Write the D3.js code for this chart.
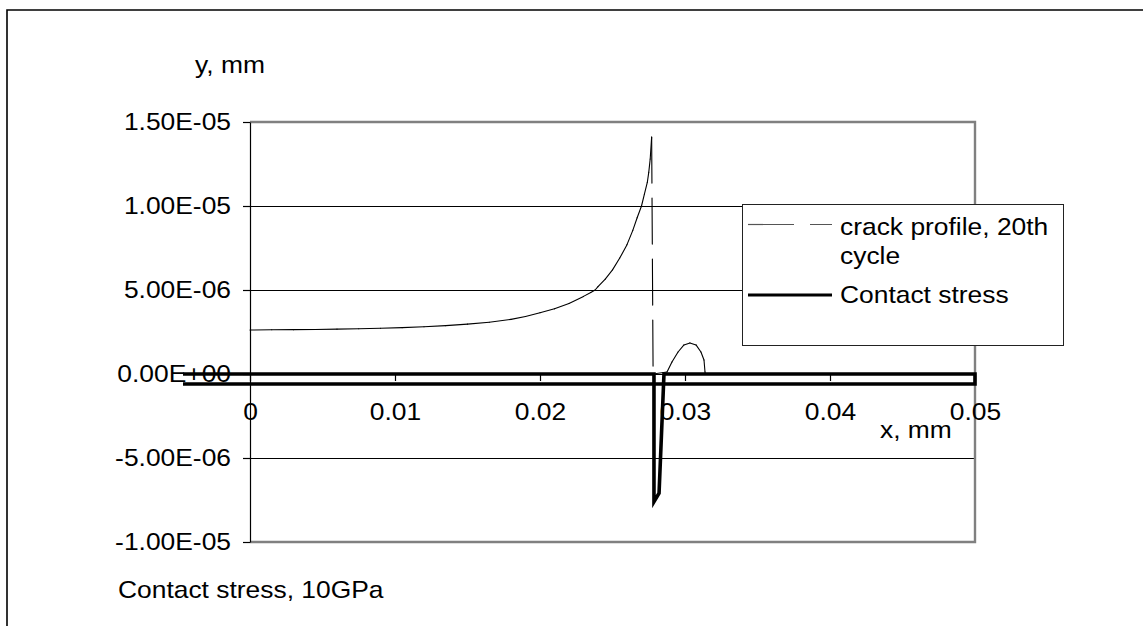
<!DOCTYPE html>
<html><head><meta charset="utf-8">
<script src="https://cdn.jsdelivr.net/npm/d3@7/dist/d3.min.js"></script>
<style>html,body{margin:0;padding:0;background:#fff;}svg{display:block;}</style>
</head><body>
<script>
// ---- data ----
const crackX = [0, 0.0015, 0.003, 0.0045, 0.006, 0.0075, 0.009, 0.0105, 0.012, 0.0135, 0.015, 0.0165, 0.018, 0.019, 0.020, 0.021, 0.022, 0.023, 0.0235, 0.0238,
                0.024, 0.0245, 0.025, 0.0255, 0.026, 0.0264, 0.0267, 0.0270, 0.0272, 0.0274, 0.0275, 0.0276, 0.0277,
                0.0278, 0.02876, 0.0291, 0.02952, 0.02993, 0.03034, 0.03076, 0.0311, 0.03131, 0.03138, 0.0314, 0.05];
const crackY = [2.62e-6, 2.63e-6, 2.64e-6, 2.65e-6, 2.67e-6, 2.69e-6, 2.72e-6, 2.76e-6, 2.81e-6, 2.88e-6, 2.97e-6, 3.08e-6, 3.25e-6, 3.42e-6, 3.65e-6, 3.88e-6, 4.2e-6, 4.62e-6, 4.85e-6, 5.0e-6,
                5.2e-6, 5.65e-6, 6.2e-6, 6.9e-6, 7.7e-6, 8.55e-6, 9.3e-6, 1.0e-5, 1.07e-5, 1.14e-5, 1.2e-5, 1.28e-5, 1.41e-5,
                0, 1.2e-7, 7.1e-7, 1.31e-6, 1.73e-6, 1.85e-6, 1.73e-6, 1.31e-6, 8.3e-7, 1.2e-7, 0, 0];
const contactX = [-0.00462, 0.02786, 0.02786, 0.02821, 0.02855, 0.05, 0.05, -0.00462];
const contactY = [0, 0, -7.6e-6, -7.1e-6, 0, 0, -5.95e-7, -5.95e-7];
const xTicks = [0, 0.01, 0.02, 0.03, 0.04, 0.05];
const xTickLabels = ["0", "0.01", "0.02", "0.03", "0.04", "0.05"];
const yTicks = [-1e-5, -5e-6, 0, 5e-6, 1e-5, 1.5e-5];
const yTickLabels = ["-1.00E-05", "-5.00E-06", "0.00E+00", "5.00E-06", "1.00E-05", "1.50E-05"];
const seriesNames = ["crack profile, 20th", "cycle", "Contact stress"];

const W = 1143, H = 626;
const FONT = "'Liberation Sans', Arial, 'DejaVu Sans', sans-serif";
const FS = 24, SX = 1.1;

const svg = d3.select("body").append("svg").attr("width", W).attr("height", H);
svg.append("rect").attr("width", W).attr("height", H).attr("fill", "#fff");

const x = d3.scaleLinear().domain([0, 0.05]).range([250, 975]);
const y = d3.scaleLinear().domain([-1e-5, 1.5e-5]).range([542, 122]);

function label(px, py, s, anchor) {
  svg.append("g").attr("transform", `translate(${px},${py}) scale(${SX},1)`)
    .append("text").attr("x", 0).attr("y", 0).attr("text-anchor", anchor || "start")
    .attr("font-family", FONT).attr("font-size", FS).attr("fill", "#000").text(s);
}

// outer frame (left and top edges)
svg.append("path").attr("d", `M7,${H} V10 H${W}`).attr("fill", "none").attr("stroke", "#000").attr("stroke-width", 1.6);

// gridlines
svg.append("g").selectAll("line").data(yTicks.filter(v => v !== 0 && v !== -1e-5 && v !== 1.5e-5)).join("line")
  .attr("x1", x(0)).attr("x2", x(0.05)).attr("y1", d => Math.round(y(d)) + 0.5).attr("y2", d => Math.round(y(d)) + 0.5)
  .attr("stroke", "#000").attr("stroke-width", 1);

// plot area border (grey)
svg.append("path").attr("d", `M${x(0)},${y(1.5e-5)} H${x(0.05)} V${y(-1e-5)} H${x(0)}`)
  .attr("fill", "none").attr("stroke", "#808080").attr("stroke-width", 2.4);

// y axis
const yAxis = d3.axisLeft(y).tickValues(yTicks).tickSize(7).tickSizeOuter(0)
  .tickFormat((d, i) => yTickLabels[i]);
const gy = svg.append("g").attr("transform", `translate(${x(0)},0)`).call(yAxis);
gy.select(".domain").attr("stroke", "#000").attr("stroke-width", 1.2);
gy.selectAll(".tick line").attr("stroke", "#000").attr("stroke-width", 1.2);
gy.selectAll(".tick text").attr("x", -19 / SX).attr("y", 7.5).attr("dy", 0)
  .attr("transform", `scale(${SX},1)`).attr("font-family", FONT).attr("font-size", FS).attr("fill", "#000");

// x axis at y = 0
const xAxis = d3.axisBottom(x).tickValues(xTicks).tickSize(7).tickSizeOuter(0)
  .tickFormat((d, i) => xTickLabels[i]);
const gx = svg.append("g").attr("transform", `translate(0,${y(0)})`).call(xAxis);
gx.select(".domain").attr("stroke", "#000").attr("stroke-width", 1.2);
gx.selectAll(".tick line").attr("stroke", "#000").attr("stroke-width", 1.2);
gx.selectAll(".tick text").attr("y", 46).attr("dy", 0)
  .attr("transform", `scale(${SX},1)`).attr("font-family", FONT).attr("font-size", FS).attr("fill", "#000");

// crack profile: each segment dashed independently (short segments show solid)
const crackPts = crackX.map((v, i) => [x(v), y(crackY[i])]);
const segs = d3.pairs(crackPts);
svg.append("g").selectAll("line").data(segs).join("line")
  .attr("x1", d => d[0][0]).attr("y1", d => d[0][1]).attr("x2", d => d[1][0]).attr("y2", d => d[1][1])
  .attr("stroke", "#000").attr("stroke-width", 1.1).attr("stroke-dasharray", "46,15")
  .attr("stroke-linecap", "round").attr("fill", "none");

// contact stress
const line = d3.line().x(d => x(d[0])).y(d => y(d[1]));
svg.append("path").datum(contactX.map((v, i) => [v, contactY[i]]))
  .attr("d", line).attr("fill", "none").attr("stroke", "#000").attr("stroke-width", 3.6).attr("stroke-linejoin", "miter");

// legend
svg.append("rect").attr("x", 742.5).attr("y", 204.5).attr("width", 321).attr("height", 141)
  .attr("fill", "#fff").attr("stroke", "#222").attr("stroke-width", 1);
svg.append("line").attr("x1", 748).attr("x2", 832).attr("y1", 224.5).attr("y2", 224.5)
  .attr("stroke", "#555").attr("stroke-width", 1.2).attr("stroke-dasharray", "46,16");
svg.append("line").attr("x1", 748).attr("x2", 832).attr("y1", 295).attr("y2", 295)
  .attr("stroke", "#000").attr("stroke-width", 3);
label(840, 235, seriesNames[0]);
label(840, 264, seriesNames[1]);
label(840, 303, seriesNames[2]);

// axis titles and note
label(195, 73, "y, mm");
label(880, 438, "x, mm");
label(118, 598, "Contact stress, 10GPa");
</script>
</body></html>
